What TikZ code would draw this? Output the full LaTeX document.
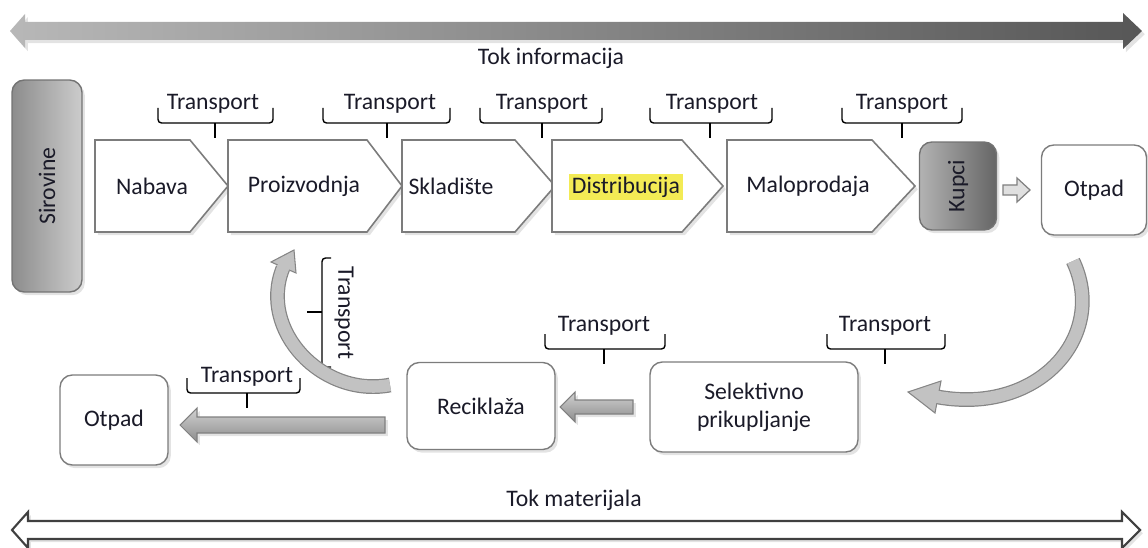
\documentclass[tikz,border=0pt]{standalone}
\usepackage{fontspec}
\setmainfont{Carlito}
\usetikzlibrary{shadows}
\definecolor{txt}{HTML}{1A1A28}
\definecolor{edge}{HTML}{7C7C7C}
\definecolor{hl}{HTML}{F3EB55}
\begin{document}
\begin{tikzpicture}[x=0.02cm,y=-0.02cm,
  lbl/.style={font=\fontsize{13.5}{16}\selectfont, text=txt, inner sep=1pt},
  shad/.style={drop shadow={opacity=0.22, shadow xshift=1.6pt, shadow yshift=-1.8pt}},
  box/.style={draw=edge, line width=0.8pt, fill=white, rounded corners=7pt, shad,
    font=\fontsize{13.5}{16}\selectfont, text=txt, align=center, inner sep=1pt},
  pent/.style={draw=edge, line width=0.9pt, fill=white, shad},
  bracestyle/.style={line width=0.8pt, rounded corners=2pt, black},
  tickstyle/.style={line width=1.4pt, black},
  blockarrow/.style={draw=black!50, line width=0.6pt, top color=black!18, bottom color=black!45, shad},
  curveout/.style={line width=8.4pt, black!48},
  curvein/.style={line width=7.0pt, black!24},
  curvehead/.style={draw=black!48, line width=0.6pt, fill=black!24}
]
\useasboundingbox (0,0) rectangle (1148,547);

\newcommand\tbrace[4]{%
  \draw[bracestyle] (#1,#3-15) -- (#1,#3) -- (#2,#3) -- (#2,#3-15);
  \draw[tickstyle] (#4,#3) -- (#4,#3+15);}

% information flow arrow (top)
\path[left color=black!28, right color=black!66, shad]
  (10,31) -- (25,14) -- (25,22) -- (1123,22) -- (1123,13) -- (1142,31)
  -- (1123,49) -- (1123,40) -- (25,40) -- (25,48) -- cycle;
\node[lbl] (tokinf) at (551,58) {Tok informacija};

% material flow arrow (bottom)
\draw[draw=black!75, line width=1.2pt, fill=white, shad]
  (12,530) -- (28,512) -- (28,521) -- (1122,521) -- (1122,512) -- (1140,530)
  -- (1122,548) -- (1122,539) -- (28,539) -- (28,548) -- cycle;
\node[lbl] (tokmat) at (574,500) {Tok materijala};

% Sirovine
\node[draw=black!55, line width=0.8pt, rounded corners=7pt, left color=black!45, right color=black!20,
  shad, minimum width=4.24cm, minimum height=1.4cm, rotate=90,
  font=\fontsize{13.5}{16}\selectfont, text=txt] (sir) at (47,186) {Sirovine};

% process pentagons
\draw[pent] (95,140) -- (190,140) -- (228,186) -- (190,232) -- (95,232) -- cycle;
\draw[pent] (228,140) -- (367,140) -- (402,186) -- (367,232) -- (228,232) -- cycle;
\draw[pent] (402,140) -- (515,140) -- (555,186) -- (515,232) -- (402,232) -- cycle;
\draw[pent] (552,140) -- (682,140) -- (723,186) -- (682,232) -- (552,232) -- cycle;
\draw[pent] (727,140) -- (872,140) -- (915,186) -- (872,232) -- (727,232) -- cycle;
\node[lbl] (nab) at (152,186) {Nabava};
\node[lbl] (pro) at (304,186) {Proizvodnja};
\node[lbl] (skl) at (451,186) {Skladište};
\node[lbl, fill=hl, inner sep=1.5pt] (dis) at (626,187) {Distribucija};
\node[lbl] (mal) at (808,186) {Maloprodaja};

% top transport braces
\node[lbl] (t1) at (213,104) {Transport};
\node[lbl] (t2) at (390,104) {Transport};
\node[lbl] (t3) at (542,104) {Transport};
\node[lbl] (t4) at (712,104) {Transport};
\node[lbl] (t5) at (902,104) {Transport};
\tbrace{158}{273}{123}{215}
\tbrace{323}{450}{123}{387}
\tbrace{480}{602}{123}{542}
\tbrace{650}{772}{123}{710}
\tbrace{842}{962}{123}{902}

% Kupci
\node[draw=black!55, line width=0.8pt, rounded corners=7pt, left color=black!30, right color=black!60,
  shad, minimum width=1.76cm, minimum height=1.54cm, rotate=90,
  font=\fontsize{13.5}{16}\selectfont, text=txt] (kup) at (958,186) {Kupci};

% small hollow arrow Kupci -> Otpad
\draw[fill=black!12, draw=black!50, line width=0.7pt]
  (1003,185) -- (1017,185) -- (1017,178) -- (1030,190) -- (1017,202) -- (1017,195) -- (1003,195) -- cycle;

% Otpad (top right)
\node[box, minimum width=2.1cm, minimum height=1.8cm] (otp1) at (1094,190) {Otpad};

% bottom boxes
\node[box, minimum width=4.16cm, minimum height=1.8cm] (sel) at (754,407) {Selektivno\\prikupljanje};
\node[box, minimum width=2.96cm, minimum height=1.74cm] (rec) at (481,406) {Reciklaža};
\node[box, minimum width=2.16cm, minimum height=1.8cm] (otp2) at (114,420) {Otpad};

% block arrows
\path[blockarrow] (633,400) -- (575,400) -- (575,392) -- (560,407) -- (575,422) -- (575,414) -- (633,414) -- cycle;
\path[blockarrow] (385,417) -- (197,417) -- (197,408) -- (180,425) -- (197,442) -- (197,433) -- (385,433) -- cycle;

% bottom transport braces
\node[lbl] (t6) at (604,326) {Transport};
\node[lbl] (t7) at (885,326) {Transport};
\node[lbl] (t8) at (247,377) {Transport};
\tbrace{545}{665}{349}{604}
\tbrace{827}{945}{349}{885}
\tbrace{187}{300}{393}{247}

% vertical transport bracket
\draw[bracestyle] (331,258) -- (322,258) -- (322,367) -- (331,367);
\draw[tickstyle] (322,312) -- (307,312);
\node[lbl, rotate=-90] (t9) at (344,313) {Transport};

% curved arrow Otpad -> Selektivno prikupljanje
\draw[curveout] (1073,261) .. controls (1108,335) and (1040,415) .. (938,397);
\draw[curvehead] (941,381) -- (908,392) -- (935,413) -- cycle;
\draw[curvein] (1073,261) .. controls (1108,335) and (1040,415) .. (938,397) -- (933,396);

% curved arrow Reciklaža -> Proizvodnja
\draw[curveout] (390,385) .. controls (322,398) and (258,330) .. (283,268);
\draw[curvehead] (296,273) -- (294,250) -- (271,262) -- cycle;
\draw[curvein] (390,385) .. controls (322,398) and (258,330) .. (283,268) -- (285,264);
\end{tikzpicture}
\end{document}
